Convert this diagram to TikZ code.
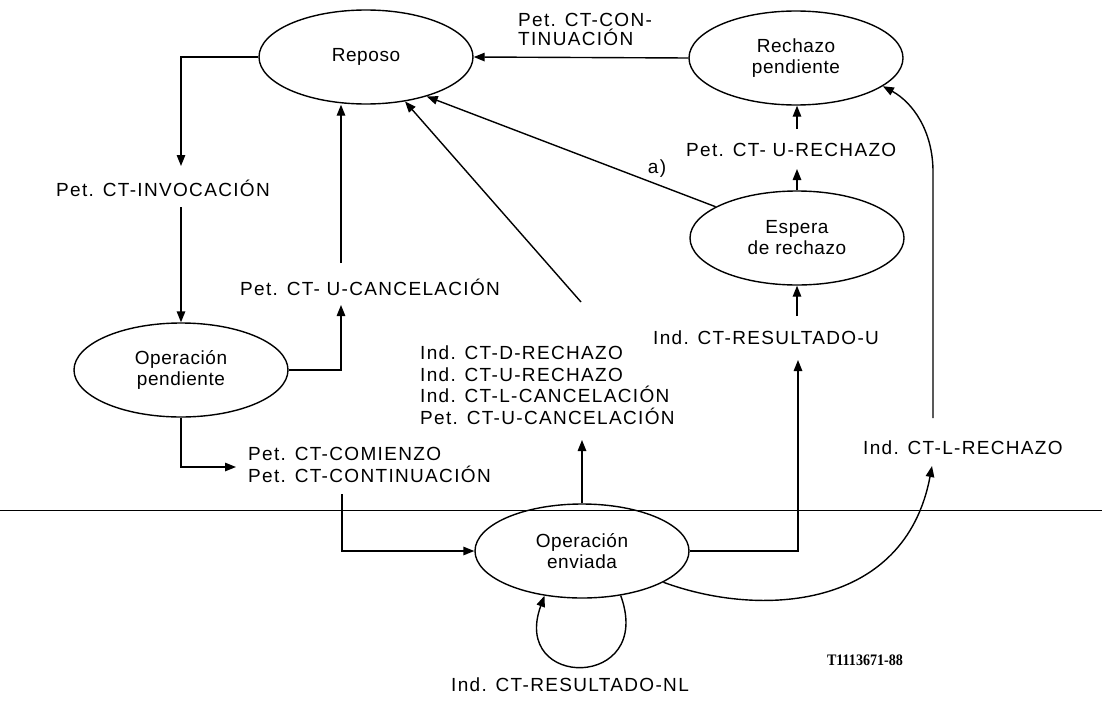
\documentclass[tikz,border=0pt]{standalone}
\usepackage{fontspec}
\setmainfont{Liberation Sans}
\newfontfamily\lblfont{Liberation Sans}[LetterSpace=7]
\newfontfamily\elfont{Liberation Sans}[LetterSpace=3]
\newfontfamily\codefont{Liberation Serif}[FakeStretch=0.88]
\usetikzlibrary{shapes.geometric,arrows.meta}
\begin{document}
\begin{tikzpicture}[x=1pt,y=-1pt,
 state/.style={ellipse,draw,line width=1.4pt,minimum width=214pt,minimum height=94pt,inner sep=0pt,align=center,font=\elfont\fontsize{19}{21}\selectfont},
 lbl/.style={inner sep=0pt,align=left,font=\lblfont\fontsize{19}{21.5}\selectfont},
 arr/.style={line width=1.4pt,-{Triangle[length=11pt,width=8.5pt]}},
 divider/.style={line width=0.9pt}]
\useasboundingbox (0,0) rectangle (1102,701);
\draw[divider] (0,510) -- (1102,510);

\node[state] (reposo) at (366,57) {Reposo};
\node[state] (rech) at (796,58) {Rechazo\\pendiente};
\node[state] (espera) at (797,238) {Espera\\de rechazo};
\node[state] (opp) at (181,370) {Operación\\pendiente};
\node[state] (openv) at (582,551) {Operación\\enviada};

\node[lbl] (inv) at (163,188) {Pet. CT-INVOCACIÓN};
\node[lbl,anchor=west] (ucanc) at (240,287) {Pet. CT- U-CANCELACIÓN};
\node[lbl,anchor=west] (com) at (248,465) {Pet. CT-COMIENZO\\Pet. CT-CONTINUACIÓN};
\node[lbl,anchor=west] (multi) at (420,385) {Ind. CT-D-RECHAZO\\Ind. CT-U-RECHAZO\\Ind. CT-L-CANCELACIÓN\\Pet. CT-U-CANCELACIÓN};
\node[lbl,anchor=west] (resu) at (653,338) {Ind. CT-RESULTADO-U};
\node[lbl,anchor=west] (lrech) at (863,448) {Ind. CT-L-RECHAZO};
\node[lbl,anchor=west] (urech) at (686,150) {Pet. CT- U-RECHAZO};
\node[lbl,anchor=west,font=\lblfont\fontsize{19}{19}\selectfont] (cont) at (518,29) {Pet. CT-CON-\\TINUACIÓN};
\node[lbl] (nl) at (570,685) {Ind. CT-RESULTADO-NL};
\node[lbl] (a) at (657,169) {a)};
\node[inner sep=0pt,font=\codefont\bfseries\fontsize{16}{16}\selectfont] (code) at (865,660) {T1113671-88};

\coordinate (invT) at (181,166);
\coordinate (invB) at (181,207);
\coordinate (ucB) at (341,305);
\coordinate (ucT) at (341,263);
\coordinate (comT) at (236,467);
\coordinate (comB) at (342,494);
\coordinate (mlT) at (581,302);
\coordinate (mlB) at (583,440);
\coordinate (ruB) at (798,360);
\coordinate (ruT) at (797,316);
\coordinate (urB) at (797,169);
\coordinate (urT) at (797,129);
\coordinate (lrB) at (932,466);
\coordinate (lrT) at (933,418);
\coordinate (lrK) at (933,172);

\draw[arr] (reposo.west) -| (invT);
\draw[arr] (invB) -- (opp.north);
\draw[arr] (opp.east) -| (ucB);
\draw[arr] (ucT) -- (ucT |- reposo.south);
\draw[arr] (opp.south) |- (comT);
\draw[arr] (comB) |- (openv.west);
\draw[arr] (openv.north) -- (openv.north |- mlB);
\draw[arr] (mlT) -- (reposo);
\draw[arr] (espera.159) -- (reposo.-33);
\draw[arr] (rech.west) -- (reposo.east);
\draw[arr] (espera.north) -- (urB);
\draw[arr] (urT) -- (urT |- rech.south);
\draw[arr] (openv.east) -| (ruB);
\draw[arr] (ruT) -- (espera.south);
\draw[arr] (openv.-21) .. controls (760,618) and (905,610) .. (lrB);
\draw[arr] (lrT) -- (lrK) .. controls (933,130) and (912,102) .. (rech.-18);
\draw[arr] (openv.-49) .. controls (655,690) and (510,690) .. (openv.-130);
\end{tikzpicture}
\end{document}
